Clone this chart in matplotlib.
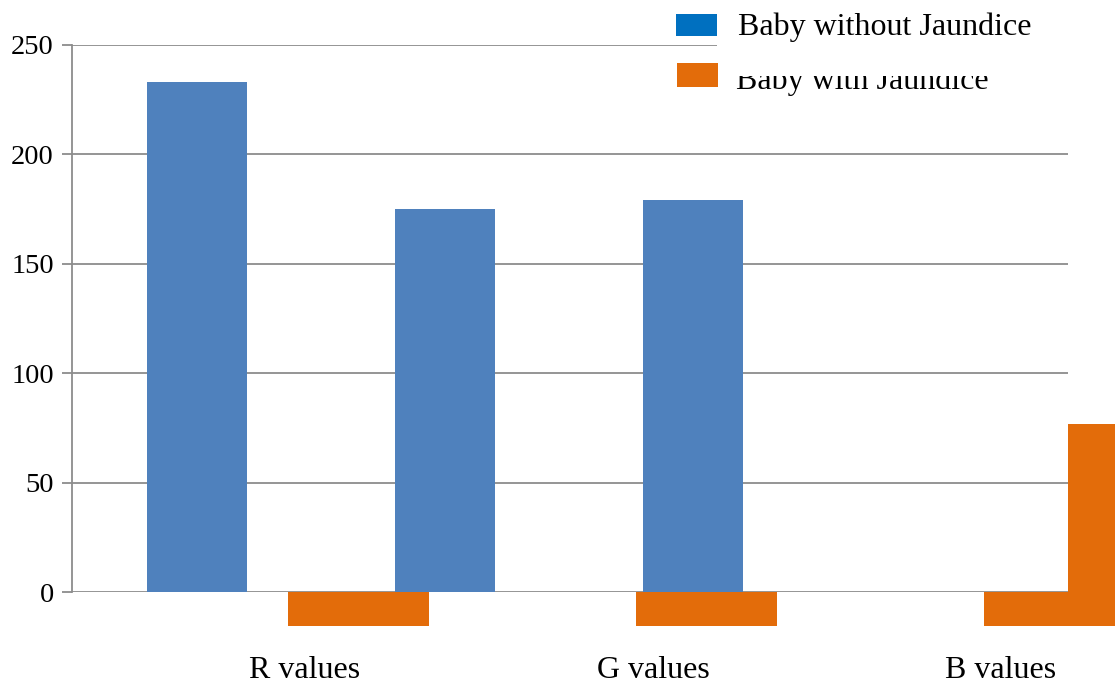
import numpy as np
import matplotlib.pyplot as plt
from matplotlib.patches import Rectangle

# mean colour channel values
categories = ["R values", "G values", "B values"]
without_jaundice = [233, 175, 179]
with_jaundice = [-15.5, -15.5, -15.5]
b_overflow = 77   # the orange bar that spills past the plot area

BLUE = "#4F81BD"
ORANGE = "#E36C0A"
GRID = "#8C8C8C"

plt.rcParams['font.family'] = ['Liberation Serif', 'DejaVu Serif']


def main():
    W, H = 1115, 687
    fig = plt.figure(figsize=(W / 100, H / 100), dpi=100)
    # plot area in pixels: x 72..1068, y 45 (250) .. 592 (0)
    ax = fig.add_axes([72 / W, 1 - 592 / H, (1068 - 72) / W, (592 - 45) / H])

    idx = np.arange(len(categories))
    blue_x = idx * 0.7126 - 0.3103
    orange_x = idx + 0.1537

    ax.bar(blue_x, without_jaundice, width=0.2874, color=BLUE, zorder=3, clip_on=False)
    ax.bar(orange_x, with_jaundice, width=0.405, color=ORANGE, zorder=3, clip_on=False)
    ax.bar(2.1925, b_overflow, width=0.405, align='edge', color=ORANGE, zorder=3, clip_on=False)

    ax.set_xlim(-0.6695, 2.1925)
    ax.set_ylim(0, 250)
    ax.set_yticks(range(0, 251, 50))
    ax.set_xticks(idx)
    ax.set_xticklabels(categories, fontsize=23)
    ax.tick_params(axis='x', length=0, pad=46)
    ax.tick_params(axis='y', length=7, width=1.3, color=GRID, pad=6, labelsize=20.5)

    ax.yaxis.grid(True, color=GRID, linewidth=1.3, zorder=1)
    ax.set_axisbelow(True)
    for s in ['top', 'right', 'bottom']:
        ax.spines[s].set_visible(False)
    ax.spines['left'].set_color(GRID)
    ax.spines['left'].set_linewidth(1.3)

    # hand-built legend; the first entry's white box sits over the second label
    def fx(px):
        return px / W

    def fy(py):
        return 1 - py / H

    fig.text(fx(736), fy(89), "Baby with Jaundice", fontsize=23, va='baseline', zorder=5)
    fig.patches.append(Rectangle((fx(717), fy(76)), fx(W - 717), 76 / H,
                                 transform=fig.transFigure, facecolor='white',
                                 edgecolor='none', zorder=6))
    fig.text(fx(738), fy(35), "Baby without Jaundice", fontsize=23, va='baseline', zorder=7)
    fig.patches.append(Rectangle((fx(676), fy(36)), 41 / W, 22 / H,
                                 transform=fig.transFigure, facecolor='#0070C0',
                                 edgecolor='none', zorder=7))
    fig.patches.append(Rectangle((fx(677), fy(87)), 41 / W, 24 / H,
                                 transform=fig.transFigure, facecolor=ORANGE,
                                 edgecolor='none', zorder=7))

    fig.savefig("out.png", dpi=100)


if __name__ == "__main__":
    main()
